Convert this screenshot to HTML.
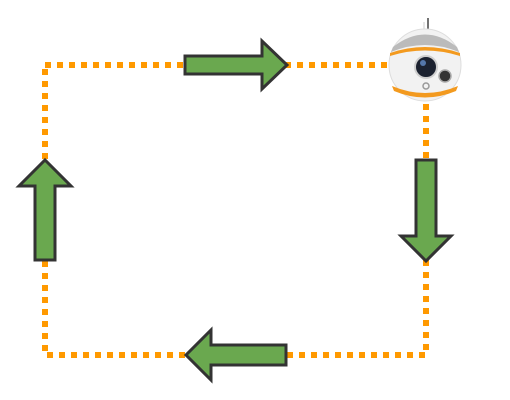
<!DOCTYPE html>
<html><head><style>html,body{margin:0;padding:0;background:#fff;width:510px;height:400px;overflow:hidden}</style></head>
<body>
<svg width="510" height="400" viewBox="0 0 510 400">
<rect x="45" y="65" width="381" height="290" fill="none" stroke="#FF9900" stroke-width="6" stroke-dasharray="6 6"/>
<g fill="#6AA84F" stroke="#333" stroke-width="3" stroke-linejoin="miter">
<polygon points="185,56 262,56 262,41 287,65 262,89 262,74 185,74"/>
<polygon points="416,160 436,160 436,236 451,236 426,261 401,236 416,236"/>
<polygon points="286,345 286,365 211,365 211,380 186,355 211,330 211,345"/>
<polygon points="35,260 55,260 55,186 71,186 45,160 19,186 35,186"/>
</g>
<g>
<line x1="428" y1="18" x2="428" y2="32" stroke="#444" stroke-width="1.5"/>
<line x1="424" y1="22" x2="424" y2="32" stroke="#ddd" stroke-width="1.5"/>
<circle cx="425" cy="65" r="36" fill="#f2f2f2" stroke="#ddd"/>
<path d="M393,47 Q425,22 457,47 L459,52 Q425,38 391,52 Z" fill="#bbb"/>
<path d="M390,53 Q425,41 460,53 L460,56 Q425,45 390,56 Z" fill="#f39a1f"/>
<path d="M392,86 Q425,100 458,86 L456,91 Q425,104 394,91 Z" fill="#f39a1f"/>
<circle cx="426" cy="67" r="11" fill="#1c2230" stroke="#cfcfcf" stroke-width="2"/>
<circle cx="423" cy="63" r="3" fill="#5577aa"/>
<circle cx="445" cy="76" r="6" fill="#333" stroke="#aaa" stroke-width="1.5"/>
<circle cx="426" cy="86" r="3" fill="none" stroke="#999" stroke-width="1.5"/>
</g>
</svg>
</body></html>
